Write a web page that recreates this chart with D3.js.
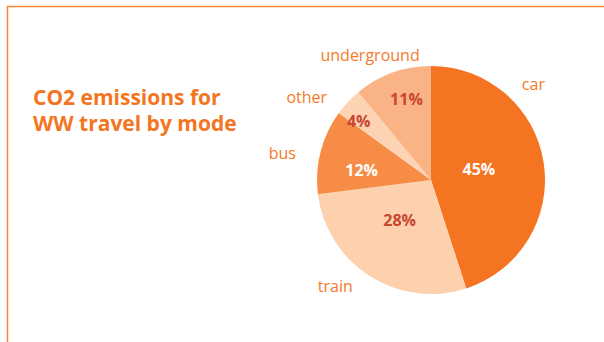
<!DOCTYPE html>
<html>
<head>
<meta charset="utf-8">
<script src="https://cdn.jsdelivr.net/npm/d3@7"></script>
<style>
  body { margin: 0; background: #fff; }
  svg { display: block; }
</style>
</head>
<body>
<div id="chart"></div>
<script>
// data
var modes = ["car", "train", "bus", "other", "underground"];
var shares = [45, 28, 12, 4, 11];
var sliceColors = ["#f47421", "#fdd1ad", "#f68c46", "#fdd3b3", "#f9b384"];
var pctColors = ["#ffffff", "#c9452f", "#ffffff", "#c9452f", "#c9452f"];

var width = 604, height = 342;
var cx = 431, cy = 180, radius = 114;

// where the labels sit: [angle in degrees from 12 o'clock, radius]
var pctPlace = {car: [78, 49], train: [218, 51], bus: [278, 70], other: [309, 93], underground: [343, 84]};
var namePlace = {car: [47, 140], train: [222, 143], bus: [280, 151], other: [303.5, 149], underground: [334, 139]};

var svg = d3.select("#chart").append("svg")
  .attr("width", width)
  .attr("height", height);

// frame lines, top and left
svg.append("line")
  .attr("x1", 7).attr("y1", 6.5).attr("x2", width).attr("y2", 6.5)
  .style("stroke", "#f7873a").style("stroke-width", 1.5);
svg.append("line")
  .attr("x1", 7.5).attr("y1", 6).attr("x2", 7.5).attr("y2", height)
  .style("stroke", "#f7873a").style("stroke-width", 1.5);

// title
var title = svg.append("text")
  .attr("x", 33)
  .style("font-family", "'Open Sans', sans-serif")
  .style("font-weight", "bold")
  .style("font-size", "21px")
  .style("fill", "#f47521");
title.append("tspan").attr("x", 33).attr("y", 105).text("CO2 emissions for");
title.append("tspan").attr("x", 33).attr("y", 131).text("WW travel by mode");

var data = modes.map((m, i) => ({mode: m, value: shares[i], color: sliceColors[i], pct: pctColors[i]}));

var pie = d3.pie()
  .value(d => d.value)
  .sort(null);

var arc = d3.arc()
  .innerRadius(0)
  .outerRadius(radius);

var g = svg.append("g")
  .attr("transform", `translate(${cx}, ${cy})`);

g.selectAll("path")
  .data(pie(data))
  .enter()
  .append("path")
  .attr("d", arc)
  .style("fill", d => d.data.color);

function polar(p) {
  var a = p[0] * Math.PI / 180;
  return [p[1] * Math.sin(a), -p[1] * Math.cos(a)];
}

// percentages inside
g.selectAll("text.pct")
  .data(pie(data))
  .enter()
  .append("text")
  .attr("class", "pct")
  .attr("transform", d => `translate(${polar(pctPlace[d.data.mode])})`)
  .attr("text-anchor", "middle")
  .attr("dy", "0.35em")
  .style("font-family", "'Open Sans', sans-serif")
  .style("font-weight", "bold")
  .style("font-size", "16px")
  .style("fill", d => d.data.pct)
  .text(d => d.data.value + "%");

// mode names outside
g.selectAll("text.name")
  .data(pie(data))
  .enter()
  .append("text")
  .attr("class", "name")
  .attr("transform", d => `translate(${polar(namePlace[d.data.mode])})`)
  .attr("text-anchor", "middle")
  .attr("dy", "0.35em")
  .style("font-family", "'Open Sans', sans-serif")
  .style("font-size", "16px")
  .style("fill", "#f47a2a")
  .text(d => d.data.mode);
</script>
</body>
</html>
